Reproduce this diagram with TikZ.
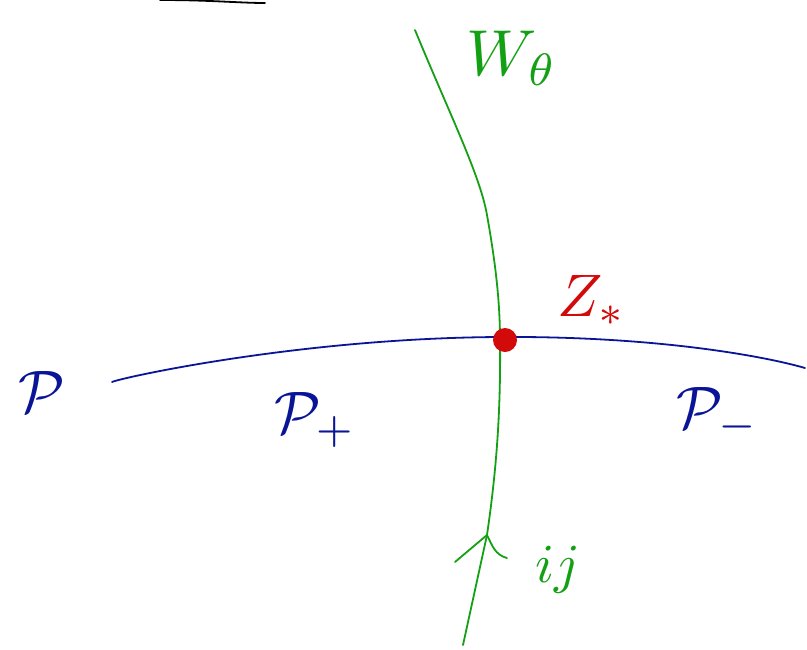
\documentclass[tikz,border=0pt]{standalone}
\usepackage{amsmath}
\begin{document}
\begin{tikzpicture}[x=1pt,y=-1pt,
  greenline/.style={draw={rgb,255:red,20;green,160;blue,20},line width=1.8pt,line cap=round},
  blueline/.style={draw={rgb,255:red,10;green,20;blue,150},line width=1.8pt,line cap=round},
  lbl/.style={inner sep=0pt},
  greentext/.style={lbl,text={rgb,255:red,20;green,160;blue,20}},
  bluetext/.style={lbl,text={rgb,255:red,10;green,20;blue,150}},
  redtext/.style={lbl,text={rgb,255:red,210;green,10;blue,10}}]
\useasboundingbox (0,0) rectangle (807,649);
% top black stroke
\coordinate (k1) at (160,0);
\coordinate (k2) at (265,3);
\draw[line width=1.8pt,line cap=round] (k1) .. controls (210,0) and (240,3) .. (k2);
% green curve W_theta
\coordinate (g1) at (415,30);
\coordinate (g2) at (487,215);
\coordinate (zs) at (505,340);
\coordinate (g3) at (487,535);
\coordinate (g4) at (463,645);
\draw[greenline] (g1) .. controls (450,115) and (480,175) .. (g2)
  .. controls (495,260) and (500,300) .. (500,340)
  .. controls (501,420) and (495,480) .. (g3) -- (g4);
% arrow on green curve
\coordinate (a1) at (455,562);
\coordinate (a2) at (507,558);
\draw[greenline] (a1) -- (g3) .. controls (492,545) and (495,555) .. (a2);
% blue curve
\coordinate (b1) at (112,382);
\coordinate (b2) at (805,368);
\draw[blueline] (b1) .. controls (120,378) and (300,338) .. (500,337)
  .. controls (650,336) and (760,355) .. (b2);
% red point
\node[circle,fill={rgb,255:red,210;green,10;blue,10},minimum size=24pt,inner sep=0pt] (z) at (505,340) {};
% labels
\node[greentext,scale=6.5] (wt) at (512,58) {$W_{\theta}$};
\node[redtext,scale=6] (zl) at (592,300) {$Z_{*}$};
\node[bluetext,scale=6] (p) at (42,392) {$\mathcal{P}$};
\node[bluetext,scale=6] (pp) at (315,420) {$\mathcal{P}_{+}$};
\node[bluetext,scale=6] (pm) at (718,415) {$\mathcal{P}_{-}$};
\node[greentext,scale=5.5] (ij) at (558,570) {$ij$};
\end{tikzpicture}
\end{document}
